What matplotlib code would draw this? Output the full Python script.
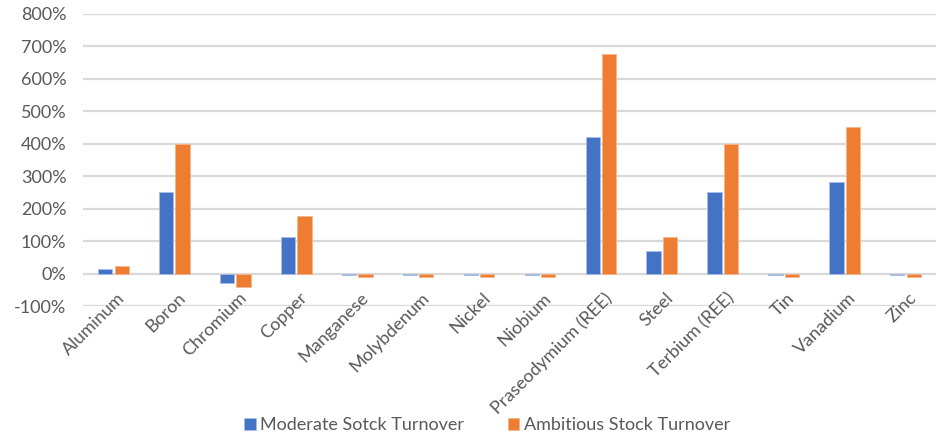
import matplotlib
matplotlib.use("Agg")
import matplotlib.pyplot as plt
from matplotlib.ticker import FuncFormatter
import numpy as np

materials = ["Aluminum", "Boron", "Chromium", "Copper", "Manganese", "Molybdenum",
             "Nickel", "Niobium", "Praseodymium (REE)", "Steel", "Terbium (REE)",
             "Tin", "Vanadium", "Zinc"]
moderate = [13, 250, -28, 112, -5, -5, -5, -5, 422, 71, 250, -5, 283, -5]
ambitious = [23, 400, -42, 176, -12, -12, -12, -12, 676, 112, 400, -12, 453, -12]
series_names = ["Moderate Sotck Turnover", "Ambitious Stock Turnover"]
y_ticks = [-100, 0, 100, 200, 300, 400, 500, 600, 700, 800]

BLUE = "#4472C4"
ORANGE = "#ED7D31"
TEXT = "#595959"
GRID = "#D9D9D9"
FS = 13

plt.rcParams["font.family"] = ["Lato", "DejaVu Sans"]

fig = plt.figure(figsize=(9.37, 4.36), dpi=100)
ax = fig.add_axes([83 / 937, 1 - 306 / 436, (936 - 83) / 937, (306 - 14) / 436])

x = np.arange(len(materials))
w = 0.235
off = 0.135
ax.bar(x - off, moderate, w, color=BLUE, edgecolor="#A9BEE6", linewidth=0.6,
       label=series_names[0], zorder=3)
ax.bar(x + off, ambitious, w, color=ORANGE, edgecolor="#F5B58C", linewidth=0.6,
       label=series_names[1], zorder=3)

ax.set_xlim(-0.5, len(materials) - 0.5)
ax.set_ylim(-100, 800)
ax.set_yticks(y_ticks)
ax.yaxis.set_major_formatter(FuncFormatter(lambda v, p: f"{int(v)}%"))
ax.yaxis.grid(True, color=GRID, linewidth=1.6, zorder=0)
ax.set_axisbelow(True)
for s in ax.spines.values():
    s.set_visible(False)
ax.tick_params(axis="y", length=0, pad=12, labelsize=FS, labelcolor=TEXT)
ax.tick_params(axis="x", length=0, labelbottom=False)
ax.set_xticks(x)

for i, name in enumerate(materials):
    ax.text(i + 0.05, -50, name, rotation=45, ha="right", va="top",
            rotation_mode="anchor", fontsize=FS, color=TEXT)

fig.legend(loc="center", bbox_to_anchor=(487 / 937, 1 - 425 / 436), ncol=2,
           frameon=False, fontsize=FS, labelcolor=TEXT, handlelength=0.65,
           handleheight=0.65, handletextpad=0.25, columnspacing=2.4)

fig.savefig("out.png", dpi=100)
